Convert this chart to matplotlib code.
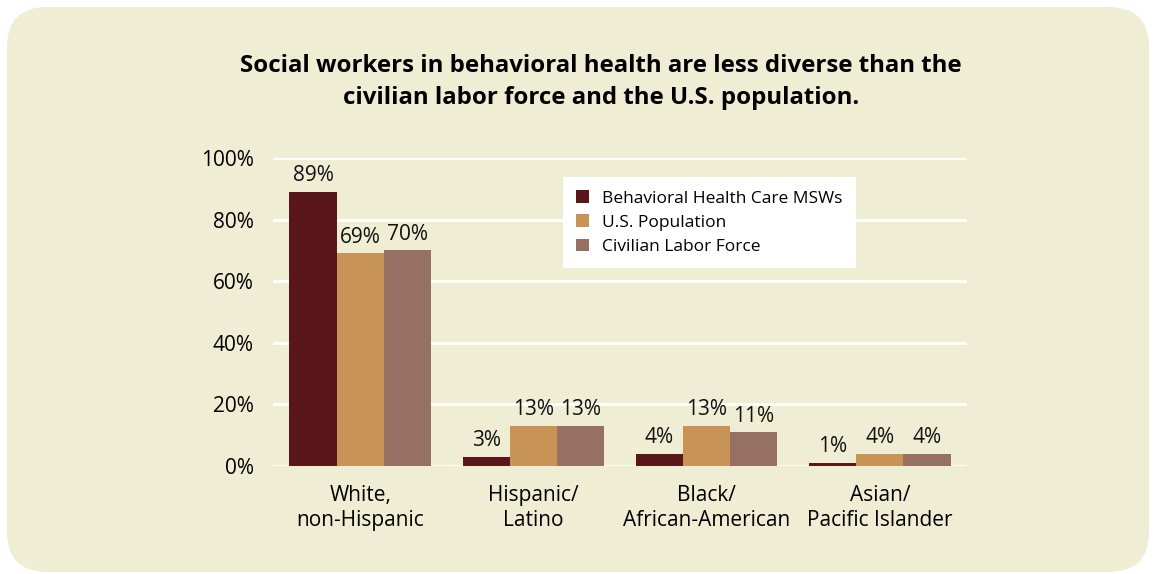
import matplotlib.pyplot as plt
import numpy as np
from matplotlib.patches import FancyBboxPatch, Patch

plt.rcParams["font.family"] = ["Open Sans", "DejaVu Sans"]

categories = ["White,\nnon-Hispanic", "Hispanic/\nLatino", "Black/\nAfrican-American", "Asian/\nPacific Islander"]
series_names = ["Behavioral Health Care MSWs", "U.S. Population", "Civilian Labor Force"]
msw = [89, 3, 4, 1]
us_pop = [69, 13, 13, 4]
labor = [70, 13, 11, 4]
yticks = [0, 20, 40, 60, 80, 100]

colors = ["#5A1719", "#C89356", "#967063"]
bg = "#EFEDD4"

fig = plt.figure(figsize=(11.56, 5.74), dpi=100)
fig.patch.set_facecolor("white")
fig.patches.append(FancyBboxPatch((7 / 1156, 2 / 574), 1142 / 1156, 565 / 574,
                                  boxstyle="round,pad=0,rounding_size=0.035",
                                  transform=fig.transFigure, facecolor=bg,
                                  edgecolor="none", zorder=-5, mutation_aspect=2.0))

ax = fig.add_axes([273 / 1156, 1 - 466 / 574, 694 / 1156, 308 / 574])
ax.set_zorder(2)
ax.patch.set_alpha(0)

x = np.arange(len(categories))
w = 0.272
for i, (vals, c) in enumerate(zip([msw, us_pop, labor], colors)):
    pos = x + (i - 1) * w
    ax.bar(pos, vals, width=w, color=c, zorder=3)
    for p, v in zip(pos, vals):
        ax.text(p, v + 1.8, f"{v}%", ha="center", va="bottom", fontsize=15, color="#111111", zorder=4)

ax.set_xlim(-0.503, 3.503)
ax.set_ylim(0, 100)
ax.set_yticks(yticks)
ax.set_yticklabels([f"{t}%" for t in yticks], fontsize=15)
ax.yaxis.grid(True, color="white", linewidth=2, zorder=1)
ax.set_axisbelow(True)
ax.set_xticks(x)
ax.set_xticklabels(categories, fontsize=15, linespacing=1.25)
ax.tick_params(length=0)
ax.tick_params(axis="y", pad=14)
ax.tick_params(axis="x", pad=14)
for s in ax.spines.values():
    s.set_visible(False)

handles = [Patch(facecolor=c, edgecolor="none") for c in colors]
leg = ax.legend(handles, series_names, loc="upper left", bbox_to_anchor=(0.418, 0.938),
                frameon=True, fancybox=False, fontsize=12.5, handlelength=0.75, handleheight=0.75,
                borderpad=0.75, labelspacing=0.45, handletextpad=0.75, borderaxespad=0)
leg.get_frame().set_facecolor("white")
leg.get_frame().set_edgecolor("none")
leg.get_frame().set_alpha(1)
leg.set_zorder(5)

fig.text(0.52, 1 - 82 / 574, "Social workers in behavioral health are less diverse than the\ncivilian labor force and the U.S. population.",
         ha="center", va="center", fontsize=17.3, fontweight="bold", linespacing=1.4)

fig.savefig("out.png", dpi=100, facecolor=fig.get_facecolor())
